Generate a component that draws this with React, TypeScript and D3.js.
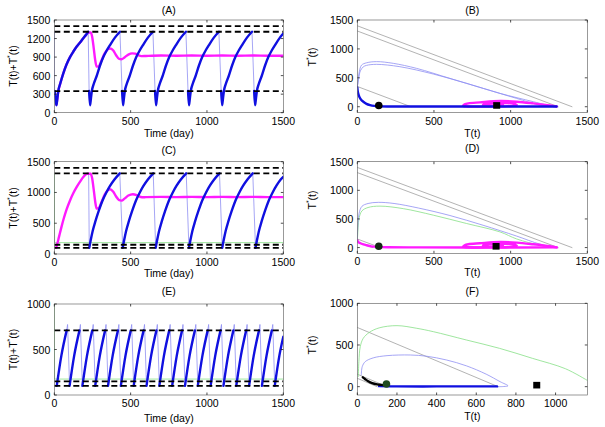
import React from "react";
import * as d3 from "d3";

type Pt = [number, number];
type Series = { data: Pt[]; color: string; width: number; curve?: "mono" | "cat" | "lin" };

const FONT = "'Liberation Sans', Arial, sans-serif";
const BLUE = "#1010e0";
const THIN = "#8f8ff2";
const MAG = "#ff1aff";
const GREEN = "#86df86";
const GRAY = "#a0a0a0";

// ---------- shared ticks ----------
const timeTicks = [0, 500, 1000, 1500];
const aYTicks = [0, 300, 600, 900, 1200, 1500];
const cYTicks = [0, 500, 1000, 1500];
const eYTicks = [0, 500, 1000];
const phaseXTicks = [0, 500, 1000, 1500];
const phaseYTicks = [0, 500, 1000, 1500];
const fXTicks = [0, 200, 400, 600, 800, 1000];
const fYTicks = [0, 500, 1000];

// ---------- Panel A ----------
const aThresholds = [1400, 1310, 350];
const aMagenta: Pt[] = [[14,130],[20,230],[26,340],[40,480],[59,637],[80,780],[103,900],[125,990],[147,1070],[170,1140],[190,1205],[208,1260],[223,1295],[238,1300],[248,1230],[258,1050],[268,850],[277,745],[290,750],[310,850],[330,960],[350,1025],[365,1040],[385,1010],[405,930],[425,870],[440,865],[460,895],[485,940],[510,960],[530,955],[550,930],[570,915],[600,918],[700,925],[800,922],[900,925],[1000,922],[1100,925],[1200,922],[1300,925],[1400,922],[1500,922]];
const aBlueThick: Pt[][] = [
  [[2,350],[8,230],[14,120],[20,230],[26,350],[40,480],[59,637],[80,780],[103,900],[125,990],[147,1070],[170,1140],[190,1205],[208,1260],[222,1310]],
  [[228,350],[234,120],[240,230],[246,350],[259,470],[277,590],[299,760],[321,900],[344,1010],[365,1095],[397,1215],[430,1310]],
  [[444,350],[450,120],[456,230],[462,350],[475,470],[493,590],[515,760],[537,900],[560,1010],[581,1095],[613,1215],[646,1310]],
  [[660,350],[666,120],[672,230],[678,350],[691,470],[709,590],[731,760],[753,900],[776,1010],[797,1095],[829,1215],[862,1310]],
  [[876,350],[882,120],[888,230],[894,350],[907,470],[925,590],[947,760],[969,900],[992,1010],[1013,1095],[1045,1215],[1078,1310]],
  [[1093,350],[1099,120],[1105,230],[1111,350],[1124,470],[1142,590],[1164,760],[1186,900],[1209,1010],[1230,1095],[1262,1215],[1295,1310]],
  [[1309,350],[1315,120],[1321,230],[1327,350],[1340,470],[1358,590],[1380,760],[1402,900],[1425,1010],[1446,1095],[1478,1215],[1500,1280]],
];
const aBlueThin: Pt[][] = [
  [[0,1310],[2,350]], [[222,1310],[228,350]], [[430,1310],[444,350]], [[646,1310],[660,350]],
  [[862,1310],[876,350]], [[1078,1310],[1093,350]], [[1295,1310],[1309,350]],
];

// ---------- Panel C ----------
const cThresholds = [1400, 1310, 150, 100];
const cMagenta: Pt[] = [[12,100],[20,170],[30,270],[45,420],[60,560],[80,720],[103,870],[125,990],[147,1090],[170,1180],[190,1250],[215,1305],[238,1305],[248,1230],[258,1050],[268,850],[277,738],[290,745],[310,850],[330,965],[350,1035],[365,1052],[385,1015],[405,935],[425,875],[441,868],[460,900],[485,950],[515,972],[535,962],[555,935],[575,922],[600,924],[700,928],[800,925],[900,928],[1000,925],[1100,928],[1200,925],[1300,928],[1400,925],[1500,925]];
const cBlueThick: Pt[][] = [
  [[229,100],[239,230],[251,370],[269,530],[291,700],[316,870],[341,1000],[366,1110],[394,1210],[429,1310]],
  [[448,100],[458,230],[470,370],[488,530],[510,700],[535,870],[560,1000],[585,1110],[613,1210],[648,1310]],
  [[664,100],[674,230],[686,370],[704,530],[726,700],[751,870],[776,1000],[801,1110],[829,1210],[864,1310]],
  [[882,100],[892,230],[904,370],[922,530],[944,700],[969,870],[994,1000],[1019,1110],[1047,1210],[1082,1310]],
  [[1100,100],[1110,230],[1122,370],[1140,530],[1162,700],[1187,870],[1212,1000],[1237,1110],[1265,1210],[1300,1310]],
  [[1318,100],[1328,230],[1340,370],[1358,530],[1380,700],[1405,870],[1430,1000],[1455,1110],[1483,1210],[1500,1255]],
];
const cBlueThin: Pt[][] = [
  [[225,1305],[229,100]], [[429,1310],[448,100]], [[648,1310],[664,100]], [[864,1310],[882,100]],
  [[1082,1310],[1100,100]], [[1300,1310],[1318,100]],
];
const cGreen: Pt[] = [[0,1300],[2,185],[1500,185]];

// ---------- Panel E ----------
const eThresholds = [710, 150, 100];
const eBlueThick: Pt[][] = [
  [[16,100],[46,430],[81,710]], [[100,100],[130,430],[165,710]], [[184,100],[214,430],[249,710]],
  [[268,100],[298,430],[333,710]], [[352,100],[382,430],[417,710]], [[436,100],[466,430],[501,710]],
  [[520,100],[550,430],[585,710]], [[604,100],[634,430],[669,710]], [[688,100],[718,430],[753,710]],
  [[772,100],[802,430],[837,710]], [[856,100],[886,430],[921,710]], [[940,100],[970,430],[1005,710]],
  [[1024,100],[1054,430],[1089,710]], [[1108,100],[1138,430],[1173,710]], [[1192,100],[1222,430],[1257,710]],
  [[1276,100],[1306,430],[1341,710]], [[1360,100],[1390,430],[1425,710]], [[1444,100],[1474,430],[1500,640]],
];
const eBlueThin: Pt[][] = [
  [[81,710],[87,775],[100,100]], [[165,710],[171,775],[184,100]], [[249,710],[255,775],[268,100]],
  [[333,710],[339,775],[352,100]], [[417,710],[423,775],[436,100]], [[501,710],[507,775],[520,100]],
  [[585,710],[591,775],[604,100]], [[669,710],[675,775],[688,100]], [[753,710],[759,775],[772,100]],
  [[837,710],[843,775],[856,100]], [[921,710],[927,775],[940,100]], [[1005,710],[1011,775],[1024,100]],
  [[1089,710],[1095,775],[1108,100]], [[1173,710],[1179,775],[1192,100]], [[1257,710],[1263,775],[1276,100]],
  [[1341,710],[1347,775],[1360,100]], [[1425,710],[1431,775],[1444,100]],
];
const eGreen: Pt[] = [[0,1000],[2,175],[1500,175]];

// ---------- Panel B ----------
const bGray: Pt[][] = [[[0,1400],[1400,0]], [[0,1310],[1310,0]], [[0,350],[350,0]]];
const bBlueThinOuter: Pt[] = [[1300,0],[1191,29],[1039,144],[822,317],[604,490],[387,663],[235,750],[126,780],[61,760],[28,720],[13,605],[5,450],[0,335]];
const bBlueThinInner: Pt[] = [[1278,0],[1148,87],[930,231],[713,404],[496,565],[278,692],[126,733],[60,715],[39,690],[20,620],[13,550],[5,420],[0,335]];
const bBlueThick: Pt[] = [[0,335],[4,250],[13,173],[25,120],[39,87],[60,50],[83,29],[110,15],[148,6],[250,3],[600,3],[1000,3],[1300,3]];
const spiral: Pt[] = [[1300,3],[1257,23],[1148,58],[1039,87],[930,98],[800,75],[724,58],[700,40],[690,15],[720,5],[850,3],[980,10],[1040,30],[1020,55],[950,68],[860,55],[820,35],[830,18],[880,12],[940,20],[950,32],[920,38],[895,30],[905,25]];
const bCircle: Pt = [140, 20];
const bSquare: Pt = [909, 22];

// ---------- Panel D ----------
const dGray: Pt[][] = [[[0,1400],[1400,0]], [[0,1310],[1310,0]], [[0,150],[150,0]], [[0,100],[100,0]]];
const dBlueThin: Pt[] = [[1300,0],[1191,60],[1040,200],[820,390],[604,560],[400,690],[240,770],[137,790],[70,770],[30,720],[12,600],[5,450],[2,300],[0,160]];
const dGreenThin: Pt[] = [[1300,0],[1191,40],[1040,150],[930,274],[713,420],[496,566],[300,680],[148,724],[70,700],[30,640],[12,520],[5,350],[2,200],[0,130]];
const dMagentaThick: Pt[] = [[0,130],[5,100],[20,75],[40,55],[61,40],[90,22],[126,12],[200,5],[400,3],[800,2],[1300,3]];
const dCircle: Pt = [140, 22];
const dSquare: Pt = [905, 22];

// ---------- Panel F ----------
const fGray: Pt[][] = [[[0,710],[710,0]], [[0,150],[150,0]], [[0,100],[100,0]]];
const fGreen: Pt[] = [[5,120],[8,300],[15,480],[30,580],[60,650],[110,705],[200,732],[300,700],[383,660],[550,560],[717,460],[883,340],[1050,215],[1160,75]];
const fBlueThin: Pt[] = [[20,140],[25,240],[40,300],[80,345],[150,372],[267,380],[350,365],[450,320],[550,250],[650,150],[720,60],[760,10],[740,2],[710,0]];
const fBlack: Pt[] = [[28,112],[40,90],[55,65],[75,42],[100,27],[130,18],[150,15]];
const fBlueThick: Pt[] = [[110,6],[200,3],[400,3],[600,3],[705,3]];
const fCircle: Pt = [147, 32];
const fSquare: Pt = [905, 18];

interface PanelSpec {
  id: string;
  title: string;
  left: number; right: number; top: number; bottom: number;
  xDomain: [number, number]; yDomain: [number, number];
  xTicks: number[]; yTicks: number[];
  xLabel: string; yLabel: "sum" | "star";
  yLabelX: number; yLabelY: number; titleY: number; xLabelY: number;
  series: Series[];
  hlines?: number[];
  circle?: { pt: Pt; fill: string };
  square?: Pt;
}

function Panel({ p }: { p: PanelSpec }) {
  const x = d3.scaleLinear().domain(p.xDomain).range([p.left, p.right]);
  const y = d3.scaleLinear().domain(p.yDomain).range([p.bottom, p.top]);
  const path = (s: Series) => {
    const curve = s.curve === "cat" ? d3.curveCatmullRom.alpha(0.5) : s.curve === "lin" ? d3.curveLinear : d3.curveMonotoneX;
    return d3.line<Pt>().x(d => x(d[0])).y(d => y(d[1])).curve(curve)(s.data) || "";
  };
  const tl = 2.5;
  const cid = `clip-${p.id}`;
  return (
    <g>
      <defs>
        <clipPath id={cid}>
          <rect x={p.left} y={p.top} width={p.right - p.left} height={p.bottom - p.top} />
        </clipPath>
      </defs>
      <rect x={p.left} y={p.top} width={p.right - p.left} height={p.bottom - p.top} fill="#fff" />
      <g clipPath={`url(#${cid})`}>
        {p.series.map((s, i) => (
          <path key={i} d={path(s)} fill="none" stroke={s.color} strokeWidth={s.width} strokeLinejoin="round" strokeLinecap="round" />
        ))}
        {(p.hlines || []).map((h, i) => (
          <line key={i} x1={p.left} x2={p.right} y1={y(h)} y2={y(h)} stroke="#000" strokeWidth={1.8} strokeDasharray="6,3.5" />
        ))}
        {p.circle && <circle cx={x(p.circle.pt[0])} cy={y(p.circle.pt[1])} r={3.8} fill={p.circle.fill} />}
        {p.square && <rect x={x(p.square[0]) - 3.5} y={y(p.square[1]) - 3.3} width={7} height={6.6} fill="#000" />}
      </g>
      <rect x={p.left} y={p.top} width={p.right - p.left} height={p.bottom - p.top} fill="none" stroke="#555" strokeWidth={0.6} />
      {p.xTicks.map((t, i) => (
        <g key={"xt" + i}>
          <line x1={x(t)} x2={x(t)} y1={p.bottom} y2={p.bottom - tl} stroke="#222" strokeWidth={0.8} />
          <line x1={x(t)} x2={x(t)} y1={p.top} y2={p.top + tl} stroke="#222" strokeWidth={0.8} />
          <text x={x(t)} y={p.bottom + 8} fontSize={10.5} textAnchor="middle" dominantBaseline="central" fontFamily={FONT}>{t}</text>
        </g>
      ))}
      {p.yTicks.map((t, i) => (
        <g key={"yt" + i}>
          <line x1={p.left} x2={p.left + tl} y1={y(t)} y2={y(t)} stroke="#222" strokeWidth={0.8} />
          <line x1={p.right} x2={p.right - tl} y1={y(t)} y2={y(t)} stroke="#222" strokeWidth={0.8} />
          <text x={p.left - 4} y={y(t)} fontSize={10.5} textAnchor="end" dominantBaseline="central" fontFamily={FONT}>{t}</text>
        </g>
      ))}
      <text x={(p.left + p.right) / 2} y={p.titleY} fontSize={10.5} textAnchor="middle" dominantBaseline="central" fontFamily={FONT}>{p.title}</text>
      <text x={(p.left + p.right) / 2} y={p.xLabelY} fontSize={10.5} textAnchor="middle" dominantBaseline="central" fontFamily={FONT}>{p.xLabel}</text>
      <text transform={`translate(${p.yLabelX},${p.yLabelY}) rotate(-90)`} fontSize={10.5} textAnchor="middle" dominantBaseline="central" fontFamily={FONT}>
        {p.yLabel === "sum" ? (
          <>T(t)+T<tspan fontSize={7} dy={-4}>*</tspan><tspan dy={4}>(t)</tspan></>
        ) : (
          <>T<tspan fontSize={7} dy={-4}>*</tspan><tspan dy={4}>(t)</tspan></>
        )}
      </text>
    </g>
  );
}

const L = { left: 54.3, right: 283.3 };
const R = { left: 357.3, right: 587.3 };

const thick = (data: Pt[], color = BLUE, curve: "mono" | "cat" | "lin" = "mono"): Series => ({ data, color, width: 2.4, curve });
const thin = (data: Pt[], color = THIN, curve: "mono" | "cat" | "lin" = "lin"): Series => ({ data, color, width: 0.8, curve });

const panels: PanelSpec[] = [
  {
    id: "A", title: "(A)", ...L, top: 20, bottom: 112.7, xDomain: [0, 1500], yDomain: [0, 1500],
    xTicks: timeTicks, yTicks: aYTicks, xLabel: "Time (day)", yLabel: "sum",
    yLabelX: 13, yLabelY: 66, titleY: 10, xLabelY: 133.3,
    series: [
      ...aBlueThin.map(d => thin(d)),
      thick(aMagenta, MAG),
      ...aBlueThick.map(d => thick(d)),
    ],
    hlines: aThresholds,
  },
  {
    id: "B", title: "(B)", ...R, top: 20, bottom: 112.5, xDomain: [0, 1500], yDomain: [-100, 1500],
    xTicks: phaseXTicks, yTicks: phaseYTicks, xLabel: "T(t)", yLabel: "star",
    yLabelX: 312, yLabelY: 57, titleY: 9.5, xLabelY: 133,
    series: [
      ...bGray.map(d => thin(d, GRAY)),
      thin(bBlueThinOuter, THIN, "cat"),
      thin(bBlueThinInner, THIN, "cat"),
      thick(spiral, MAG, "cat"),
      thick(bBlueThick, BLUE, "cat"),
    ],
    circle: { pt: bCircle, fill: "#000" },
    square: bSquare,
  },
  {
    id: "C", title: "(C)", ...L, top: 161.7, bottom: 254, xDomain: [0, 1500], yDomain: [0, 1500],
    xTicks: timeTicks, yTicks: cYTicks, xLabel: "Time (day)", yLabel: "sum",
    yLabelX: 13, yLabelY: 208, titleY: 150, xLabelY: 273.3,
    series: [
      thin(cGreen, GREEN),
      ...cBlueThin.map(d => thin(d)),
      thick(cMagenta, MAG),
      ...cBlueThick.map(d => thick(d)),
    ],
    hlines: cThresholds,
  },
  {
    id: "D", title: "(D)", ...R, top: 161.7, bottom: 253.3, xDomain: [0, 1500], yDomain: [-100, 1500],
    xTicks: phaseXTicks, yTicks: phaseYTicks, xLabel: "T(t)", yLabel: "star",
    yLabelX: 312, yLabelY: 200, titleY: 147.5, xLabelY: 271.7,
    series: [
      ...dGray.map(d => thin(d, GRAY)),
      thin(dGreenThin, GREEN, "cat"),
      thin(dBlueThin, THIN, "cat"),
      thick(spiral, MAG, "cat"),
      thick(dMagentaThick, MAG, "cat"),
    ],
    circle: { pt: dCircle, fill: "#142a14" },
    square: dSquare,
  },
  {
    id: "E", title: "(E)", ...L, top: 304, bottom: 395, xDomain: [0, 1500], yDomain: [0, 1000],
    xTicks: timeTicks, yTicks: eYTicks, xLabel: "Time (day)", yLabel: "sum",
    yLabelX: 13, yLabelY: 349.5, titleY: 290.5, xLabelY: 418.3,
    series: [
      thin(eGreen, GREEN),
      ...eBlueThin.map(d => thin(d)),
      ...eBlueThick.map(d => thick(d)),
    ],
    hlines: eThresholds,
  },
  {
    id: "F", title: "(F)", ...R, top: 303.3, bottom: 395, xDomain: [0, 1160], yDomain: [-100, 1000],
    xTicks: fXTicks, yTicks: fYTicks, xLabel: "T(t)", yLabel: "star",
    yLabelX: 312, yLabelY: 345, titleY: 290.5, xLabelY: 415.7,
    series: [
      ...fGray.map(d => thin(d, GRAY)),
      thin(fGreen, GREEN, "cat"),
      thin(fBlueThin, THIN, "cat"),
      thick(fBlueThick, BLUE, "cat"),
      thick(fBlack, "#000", "cat"),
    ],
    circle: { pt: fCircle, fill: "#1f4a1f" },
    square: fSquare,
  },
];

export default function App() {
  return (
    <svg width={605} height={427} viewBox="0 0 605 427" style={{ position: "absolute", left: 0, top: 0, background: "#fff" }}>
      <rect width={605} height={427} fill="#fff" />
      {panels.map(p => <Panel key={p.id} p={p} />)}
    </svg>
  );
}
